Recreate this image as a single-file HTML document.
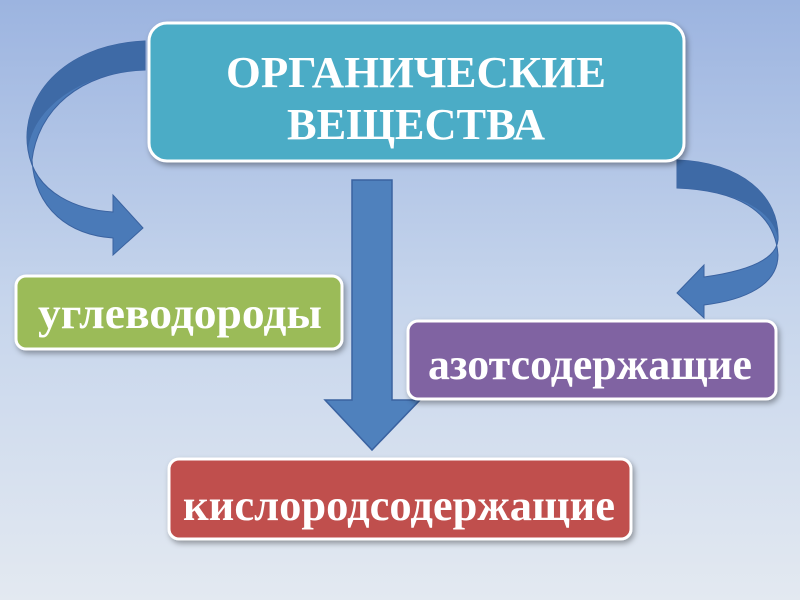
<!DOCTYPE html>
<html><head><meta charset="utf-8"><style>
html,body{margin:0;padding:0}
body{width:800px;height:600px;overflow:hidden;background:linear-gradient(#9cb4e0,#c6d5ec 50%,#e3e9f1);}
svg{display:block}
text{font-family:"Liberation Serif",serif;font-weight:bold;fill:#fff}
</style></head><body>
<svg width="800" height="600" viewBox="0 0 800 600">
<defs>
<filter id="sh" x="-10%" y="-10%" width="130%" height="140%"><feDropShadow dx="2" dy="3" stdDeviation="3" flood-color="#000" flood-opacity="0.35"/></filter>
</defs>
<path d="M145 41 C60 45 20 100 28 150 C35 195 80 210 113 212 L113 195 L143 228 L113 255 L113 238 C70 235 35 210 32 160 C38 110 80 72 145 70 Z" fill="#4a7ab8" stroke="#3a62a0" stroke-width="1"/>
<path d="M145 41 C60 45 20 100 28 150 C32 110 80 72 145 70 Z" fill="#3e6aa6"/>
<path d="M677 160 C740 162 780 195 778 240 C776 262 740 272 704 277 L704 265 L677 293 L704 318 L704 305 C745 300 778 285 778 255 C775 210 735 190 677 188 Z" fill="#4a7ab8" stroke="#3a62a0" stroke-width="1"/>
<path d="M677 160 C740 162 780 195 778 240 C775 210 735 190 677 188 Z" fill="#3e6aa6"/>
<path d="M352 180 L392 180 L392 400 L420 400 L372 450 L325 400 L352 400 Z" fill="#4f81bd" stroke="#3a62a0" stroke-width="1.5"/>
<rect x="149" y="23" width="535" height="138" rx="18" fill="#4bacc6" stroke="#fff" stroke-width="3" filter="url(#sh)"/>
<text x="226" y="87" font-size="44" textLength="380" lengthAdjust="spacingAndGlyphs">ОРГАНИЧЕСКИЕ</text>
<text x="287" y="139" font-size="44" textLength="258" lengthAdjust="spacingAndGlyphs">ВЕЩЕСТВА</text>
<rect x="16" y="276" width="326" height="73" rx="10" fill="#9bbb59" stroke="#fff" stroke-width="3" filter="url(#sh)"/>
<text x="38" y="328" font-size="44" textLength="284" lengthAdjust="spacingAndGlyphs">углеводороды</text>
<rect x="408" y="321" width="368" height="78" rx="10" fill="#8064a2" stroke="#fff" stroke-width="3" filter="url(#sh)"/>
<text x="428" y="379" font-size="44" textLength="324" lengthAdjust="spacingAndGlyphs">азотсодержащие</text>
<rect x="169" y="459" width="462" height="80" rx="10" fill="#c0504d" stroke="#fff" stroke-width="3" filter="url(#sh)"/>
<text x="183" y="520" font-size="44" textLength="432" lengthAdjust="spacingAndGlyphs">кислородсодержащие</text>
</svg>
</body></html>
